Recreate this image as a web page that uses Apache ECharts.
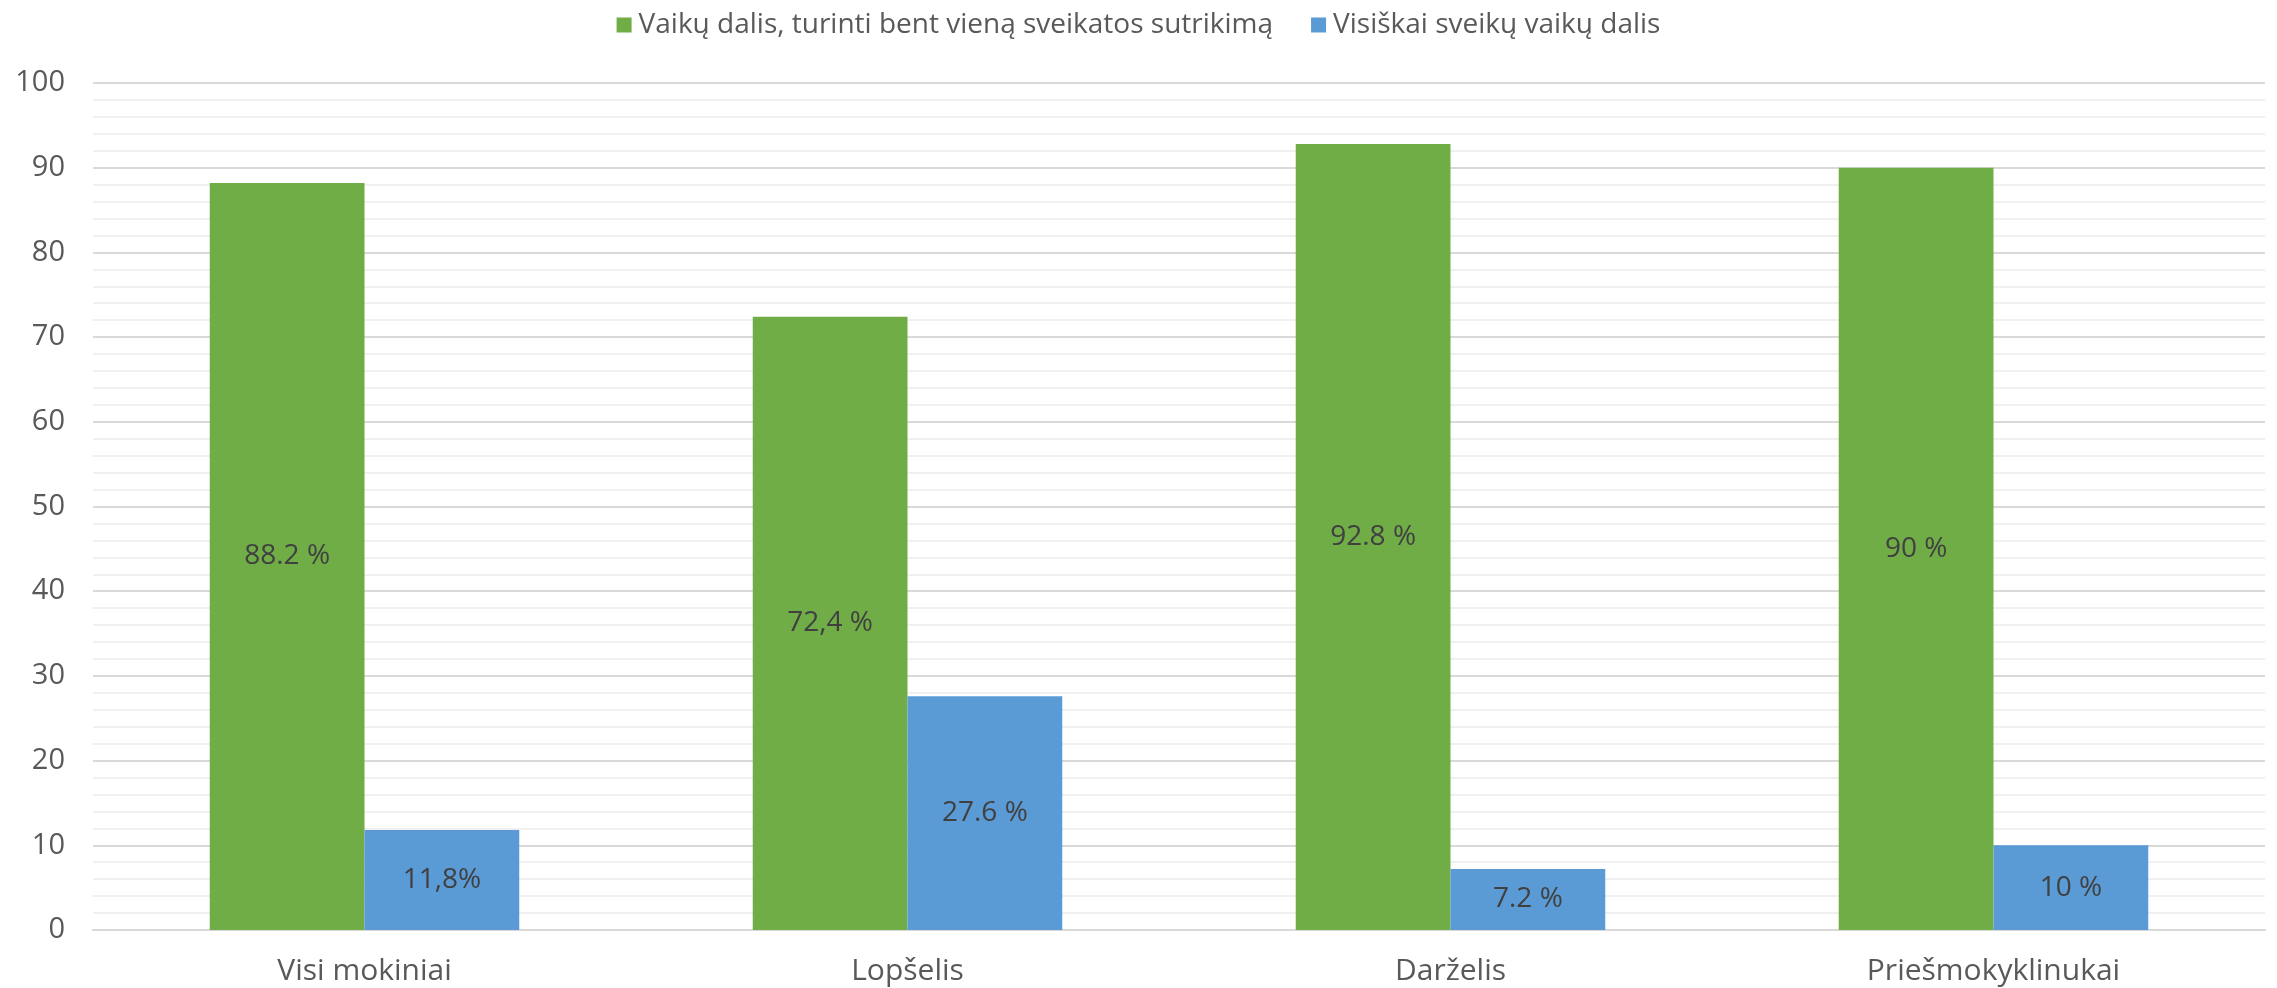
<!DOCTYPE html>
<html>
<head>
<meta charset="utf-8">
<script src="https://cdn.jsdelivr.net/npm/echarts@6/dist/echarts.min.js"></script>
<style>
html,body{margin:0;padding:0;background:#fff;}
#chart{width:2277px;height:988px;}
</style>
</head>
<body>
<div id="chart"></div>
<script>
const categories = ['Visi mokiniai', 'Lopšelis', 'Darželis', 'Priešmokyklinukai'];
const seriesNames = ['Vaikų dalis, turinti bent vieną sveikatos sutrikimą', 'Visiškai sveikų vaikų dalis'];
const greenValues = [88.2, 72.4, 92.8, 90];
const blueValues = [11.8, 27.6, 7.2, 10];
const greenLabels = ['88.2 %', '72,4 %', '92.8 %', '90 %'];
const blueLabels = ['11,8%', '27.6 %', '7.2 %', '10 %'];

const FONT = '"Open Sans", sans-serif';
const chart = echarts.init(document.getElementById('chart'));
chart.setOption({
  animation: false,
  backgroundColor: '#ffffff',
  legend: {
    top: 6,
    left: 'center',
    itemWidth: 15,
    itemHeight: 15,
    itemGap: 38,
    icon: 'rect',
    textStyle: { fontFamily: FONT, fontSize: 28, color: '#595959', padding: [0, 0, 0, 2] },
    data: seriesNames
  },
  grid: { left: 93, right: 12, top: 83, bottom: 58, containLabel: false },
  xAxis: {
    type: 'category',
    data: categories,
    axisLine: { lineStyle: { color: '#d9d9d9', width: 2 } },
    axisTick: { show: false },
    axisLabel: { fontFamily: FONT, fontSize: 30, color: '#595959', margin: 26 }
  },
  yAxis: {
    type: 'value',
    min: 0, max: 100, interval: 10,
    axisLine: { show: false },
    axisTick: { show: false },
    axisLabel: { fontFamily: FONT, fontSize: 29, color: '#595959', margin: 28 },
    splitLine: { lineStyle: { color: '#d9d9d9', width: 2 } },
    minorTick: { show: false, splitNumber: 5 },
    minorSplitLine: { show: true, lineStyle: { color: '#f0f0f0', width: 2 } }
  },
  series: [
    {
      name: seriesNames[0], type: 'bar', data: greenValues,
      itemStyle: { color: '#70AD47' },
      barGap: '0%', barCategoryGap: '43%',
      label: { show: true, position: 'inside', fontFamily: FONT, fontSize: 28, color: '#404040',
        formatter: p => greenLabels[p.dataIndex] }
    },
    {
      name: seriesNames[1], type: 'bar', data: blueValues,
      itemStyle: { color: '#5B9BD5' },
      barGap: '0%', barCategoryGap: '43%',
      label: { show: true, position: 'inside', fontFamily: FONT, fontSize: 28, color: '#404040',
        formatter: p => blueLabels[p.dataIndex] }
    }
  ]
});
</script>
</body>
</html>
